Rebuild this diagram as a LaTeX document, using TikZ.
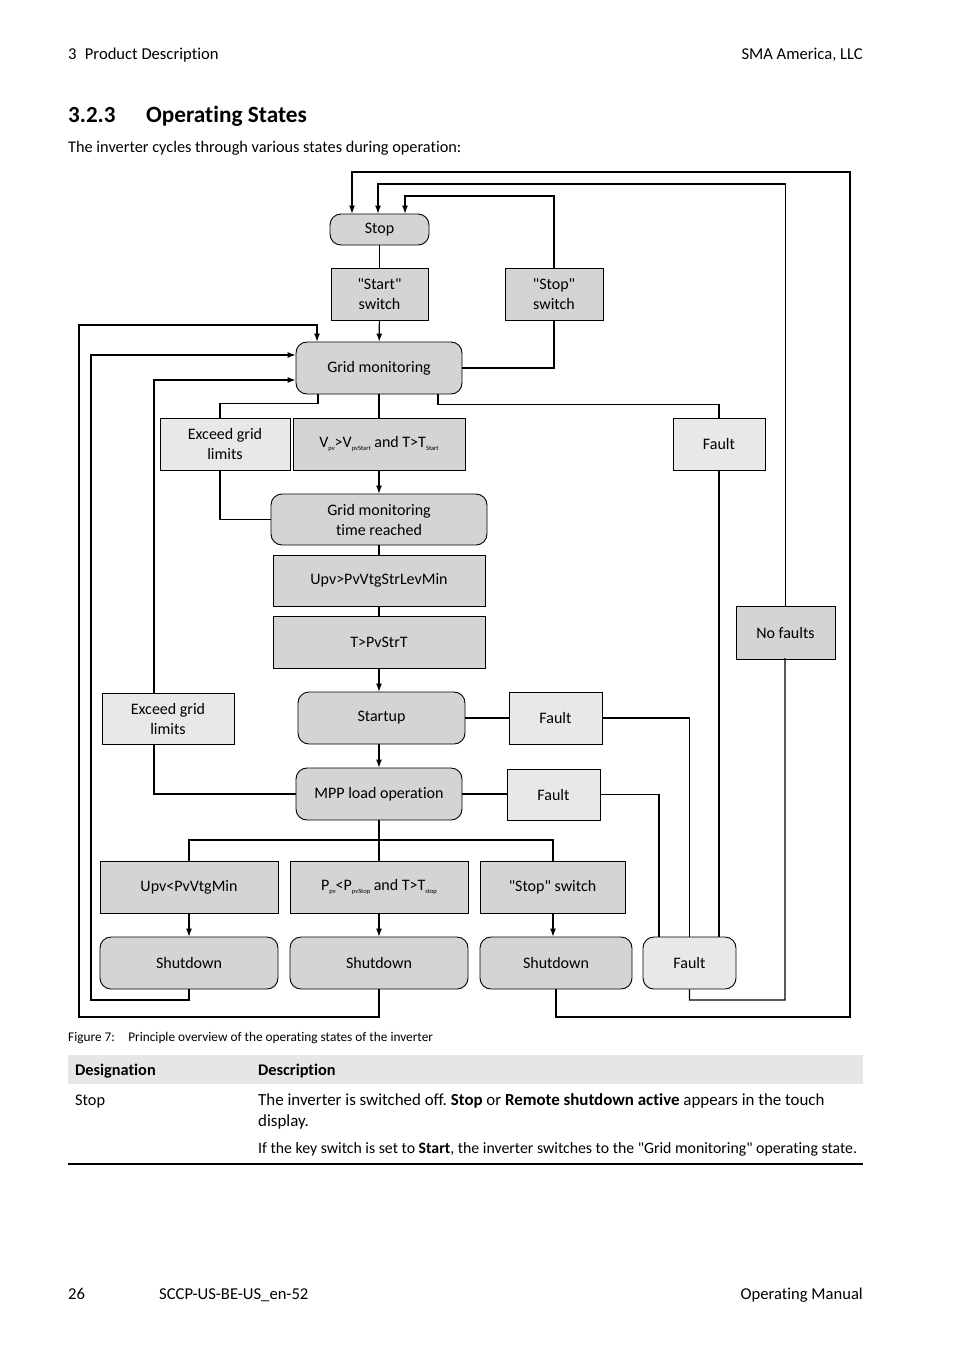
\documentclass[tikz,border=0pt]{standalone}
\usepackage{fontspec}
\setmainfont{Carlito}[Ligatures={TeXOff,CommonOff}]
\usetikzlibrary{arrows.meta}
\definecolor{boxdark}{HTML}{D4D4D4}
\definecolor{boxlight}{HTML}{E8E8E8}
\definecolor{band}{HTML}{E6E6E6}
\newcommand\sbs[1]{\raisebox{-0.45ex}{\fontsize{6.5}{7}\selectfont #1}}
\tikzset{
  bx/.style={draw, line width=0.9pt, align=center, inner sep=0pt, font=\fontsize{16}{20}\selectfont},
  dk/.style={bx, fill=boxdark},
  lt/.style={bx, fill=boxlight},
  rnd/.style={rounded corners=11pt},
  ln/.style={line width=1.1pt},
  thk/.style={line width=1.9pt},
  arr/.style={ln, -{Latex[length=8pt,width=6pt]}},
  txt/.style={inner sep=0pt, font=\fontsize{16.3}{19}\selectfont},
  hf/.style={inner sep=0pt, font=\fontsize{16.6}{19}\selectfont},
}
\begin{document}
\frenchspacing
\begin{tikzpicture}[x=1pt,y=-1pt]
\useasboundingbox[fill=white] (0,0) rectangle (954,1350);
% header
\node[hf, anchor=base west] (h1) at (68,59) {3\enspace Product Description};
\node[hf, anchor=base east] (h2) at (863,59) {SMA America, LLC};
\node[txt, anchor=base west, font=\fontsize{23}{26}\selectfont\bfseries] (sec) at (68,122) {3.2.3};
\node[txt, anchor=base west, font=\fontsize{23.3}{26}\selectfont\bfseries] (sect) at (146,122) {Operating States};
\node[txt, anchor=base west, font=\fontsize{16.3}{19}\selectfont] (intro) at (68,152) {The inverter cycles through various states during operation:};

% nodes
\node[dk, rnd, minimum width=99pt, minimum height=31pt] (stop) at (379.5,229.5) {Stop};
\node[dk, minimum width=97pt, minimum height=52pt] (startsw) at (379.5,294) {"Start"\\switch};
\node[dk, minimum width=98pt, minimum height=52pt] (stopsw) at (554,294) {"Stop"\\switch};
\node[dk, rnd, minimum width=166pt, minimum height=52pt] (gm) at (379,368) {Grid monitoring};
\node[lt, minimum width=130pt, minimum height=52pt] (ex1) at (225,444) {Exceed grid\\limits};
\node[dk, minimum width=172pt, minimum height=52pt] (vpv) at (379,444) {V\sbs{pv}>V\sbs{pvStart} and T>T\sbs{Start}};
\node[lt, minimum width=92pt, minimum height=52pt] (f1) at (719,444) {Fault};
\node[dk, rnd, minimum width=216pt, minimum height=51pt] (gmt) at (379,519.5) {Grid monitoring\\time reached};
\node[dk, minimum width=212pt, minimum height=51pt] (upv) at (379,580.5) {Upv>PvVtgStrLevMin};
\node[dk, minimum width=212pt, minimum height=52pt] (tps) at (379,642) {T>PvStrT};
\node[dk, minimum width=99pt, minimum height=53pt] (nof) at (785.5,632.5) {No faults};
\node[lt, minimum width=132pt, minimum height=51pt] (ex2) at (168,718.5) {Exceed grid\\limits};
\node[dk, rnd, minimum width=167pt, minimum height=52pt] (su) at (381.5,718) {Startup};
\node[lt, minimum width=93pt, minimum height=52pt] (f2) at (555.5,718) {Fault};
\node[dk, rnd, minimum width=166pt, minimum height=52pt] (mpp) at (379,794) {MPP load operation};
\node[lt, minimum width=93pt, minimum height=51pt] (f3) at (553.5,794.5) {Fault};
\node[dk, minimum width=178pt, minimum height=52pt] (c1) at (189,887) {Upv<PvVtgMin};
\node[dk, minimum width=178pt, minimum height=52pt] (c2) at (379,887) {P\sbs{pv}<P\sbs{pvStop} and T>T\sbs{stop}};
\node[dk, minimum width=145pt, minimum height=52pt] (c3) at (552.5,887) {"Stop" switch};
\node[dk, rnd, minimum width=178pt, minimum height=52pt] (sd1) at (189,963) {Shutdown};
\node[dk, rnd, minimum width=178pt, minimum height=52pt] (sd2) at (379,963) {Shutdown};
\node[dk, rnd, minimum width=152pt, minimum height=52pt] (sd3) at (556,963) {Shutdown};
\node[lt, rnd, minimum width=93pt, minimum height=52pt] (f5) at (689.5,963) {Fault};

% connectors
\draw[ln] (stop) -- (startsw);
\draw[arr] (startsw) -- (gm);
\draw[thk] (gm.east) -| (stopsw.south);
\draw[arr] (stopsw.north) |- (405,196) -- ([xshift=25.5pt]stop.north);
\draw[arr] (sd3.south) |- (850,1017) -- (850,172) -| ([xshift=-27.5pt]stop.north);
\draw[ln] (f5.south) |- (785,1000) -- (785,659) -- (nof.south);
\draw[arr] (nof.north) -- (785.5,184) -| ([xshift=-1.5pt]stop.north);
\draw[arr] (sd1.south) |- (91,1000) |- ([yshift=13pt]gm.west);
\draw[arr] (sd2.south) |- (79,1017) -- (79,325) -| ([xshift=-62pt]gm.north);
\draw[arr] ([xshift=-14pt]ex2.north) |- ([yshift=-12pt]gm.west);
\draw[ln] (mpp.west) -| ([xshift=-14pt]ex2.south);
\draw[ln] ([xshift=-61pt]gm.south) -- ++(0,9) -| ([xshift=-5pt]ex1.north);
\draw[ln] ([xshift=-5pt]ex1.south) |- (gmt.west);
\draw[ln] (gm.south) -- (vpv.north);
\draw[arr] (vpv) -- (gmt);
\draw[ln] ([xshift=59pt]gm.south) -- ++(0,10) -| (f1.north);
\draw[ln] (f1.south) -- (f1.south |- f5.north);
\draw[ln] (gmt) -- (upv);
\draw[ln] (upv) -- (tps);
\draw[arr] (tps) -- (su.north -| tps.south);
\draw[thk] (su.east) -- (f2.west);
\draw[thk] (f2.east) -| (f5.north);
\draw[arr] (su.south -| mpp.north) -- (mpp.north);
\draw[ln] (mpp.east) -- (mpp.east -| f3.west);
\draw[thk] (f3.east) -| ([xshift=-30.5pt]f5.north);
\draw[ln] (mpp.south) -- (c2.north);
\draw[thk] (c1.north) |- (553,840) -- (c3.north -| 553,0);
\draw[arr] (c1) -- (sd1);
\draw[arr] (c2) -- (sd2);
\draw[arr] (c3.south -| 553,0) -- (sd3.north -| 553,0);

% caption and table
\node[txt, anchor=base west, font=\fontsize{13.3}{15}\selectfont] (cap) at (68,1041) {Figure 7:\quad Principle overview of the operating states of the inverter};
\fill[band] (68,1055) rectangle (863,1084);
\node[txt, anchor=base west, font=\fontsize{16.3}{19}\selectfont\bfseries] (th1) at (75,1075) {Designation};
\node[txt, anchor=base west, font=\fontsize{16.3}{19}\selectfont\bfseries] (th2) at (258,1075) {Description};
\node[txt, anchor=base west] (td1) at (75,1105) {Stop};
\node[txt, anchor=base west, font=\fontsize{16.9}{19}\selectfont] (td2) at (258,1105) {The inverter is switched off. \textbf{Stop} or \textbf{Remote shutdown active} appears in the touch};
\node[txt, anchor=base west, font=\fontsize{16.9}{19}\selectfont] (td3) at (258,1126) {display.};
\node[txt, anchor=base west, font=\fontsize{15.8}{19}\selectfont] (td4) at (258,1153) {If the key switch is set to \textbf{Start}, the inverter switches to the "Grid monitoring" operating state.};
\draw[line width=1.4pt] (68,1164) -- (863,1164);

% footer
\node[hf, anchor=base west] (f1t) at (68,1299) {26};
\node[hf, anchor=base west] (f2t) at (159,1299) {SCCP-US-BE-US\_en-52};
\node[hf, anchor=base east] (f3t) at (863,1299) {Operating Manual};
\end{tikzpicture}
\end{document}
